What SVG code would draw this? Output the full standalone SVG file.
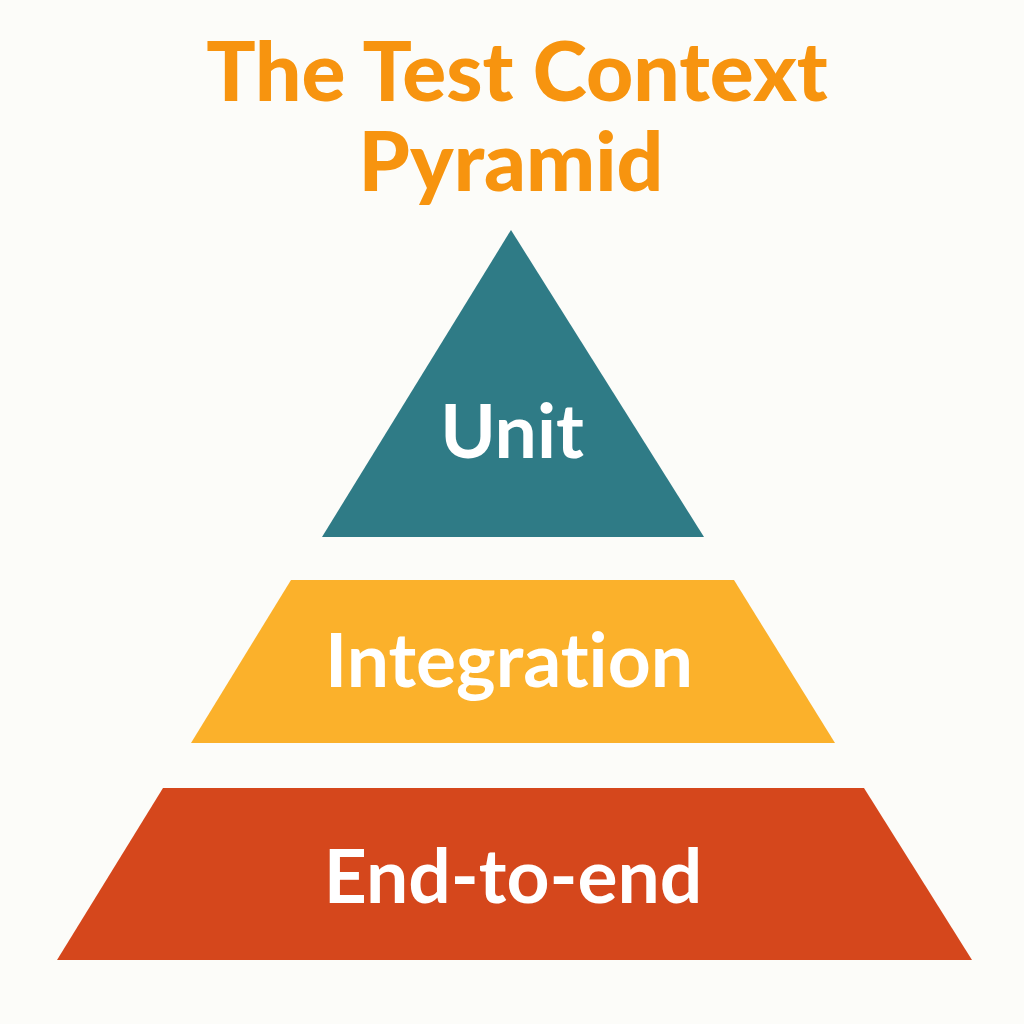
<svg xmlns="http://www.w3.org/2000/svg" width="1024" height="1024" viewBox="0 0 1024 1024">
  <style>
    .title { font-family: Lato, "Open Sans", "Liberation Sans", sans-serif; font-weight: 900; font-size: 82px; fill: #F7940F; text-anchor: middle; font-variant-ligatures: none; }
    .label { font-family: Lato, "Open Sans", "Liberation Sans", sans-serif; font-weight: 700; font-size: 75px; fill: #FFFFFF; text-anchor: middle; font-variant-ligatures: none; }
  </style>
  <rect x="0" y="0" width="1024" height="1024" fill="#FCFCF9"/>
  <g id="title">
    <text class="title" x="517" y="101">The Test Context</text>
    <text class="title" x="511" y="191" font-size="84">Pyramid</text>
  </g>
  <g id="unit">
    <polygon points="511,230 704,537 322,537" fill="#2F7B86"/>
    <text class="label" x="512" y="458">Unit</text>
  </g>
  <g id="integration">
    <polygon points="291,580 734,580 835,743 191,743" fill="#FBB12B"/>
    <text class="label" x="509" y="687">Integration</text>
  </g>
  <g id="end-to-end">
    <polygon points="163,788 864,788 972,960 57,960" fill="#D5471C"/>
    <text class="label" x="513" y="903">End-to-end</text>
  </g>
  <g id="connectors"/>
</svg>
